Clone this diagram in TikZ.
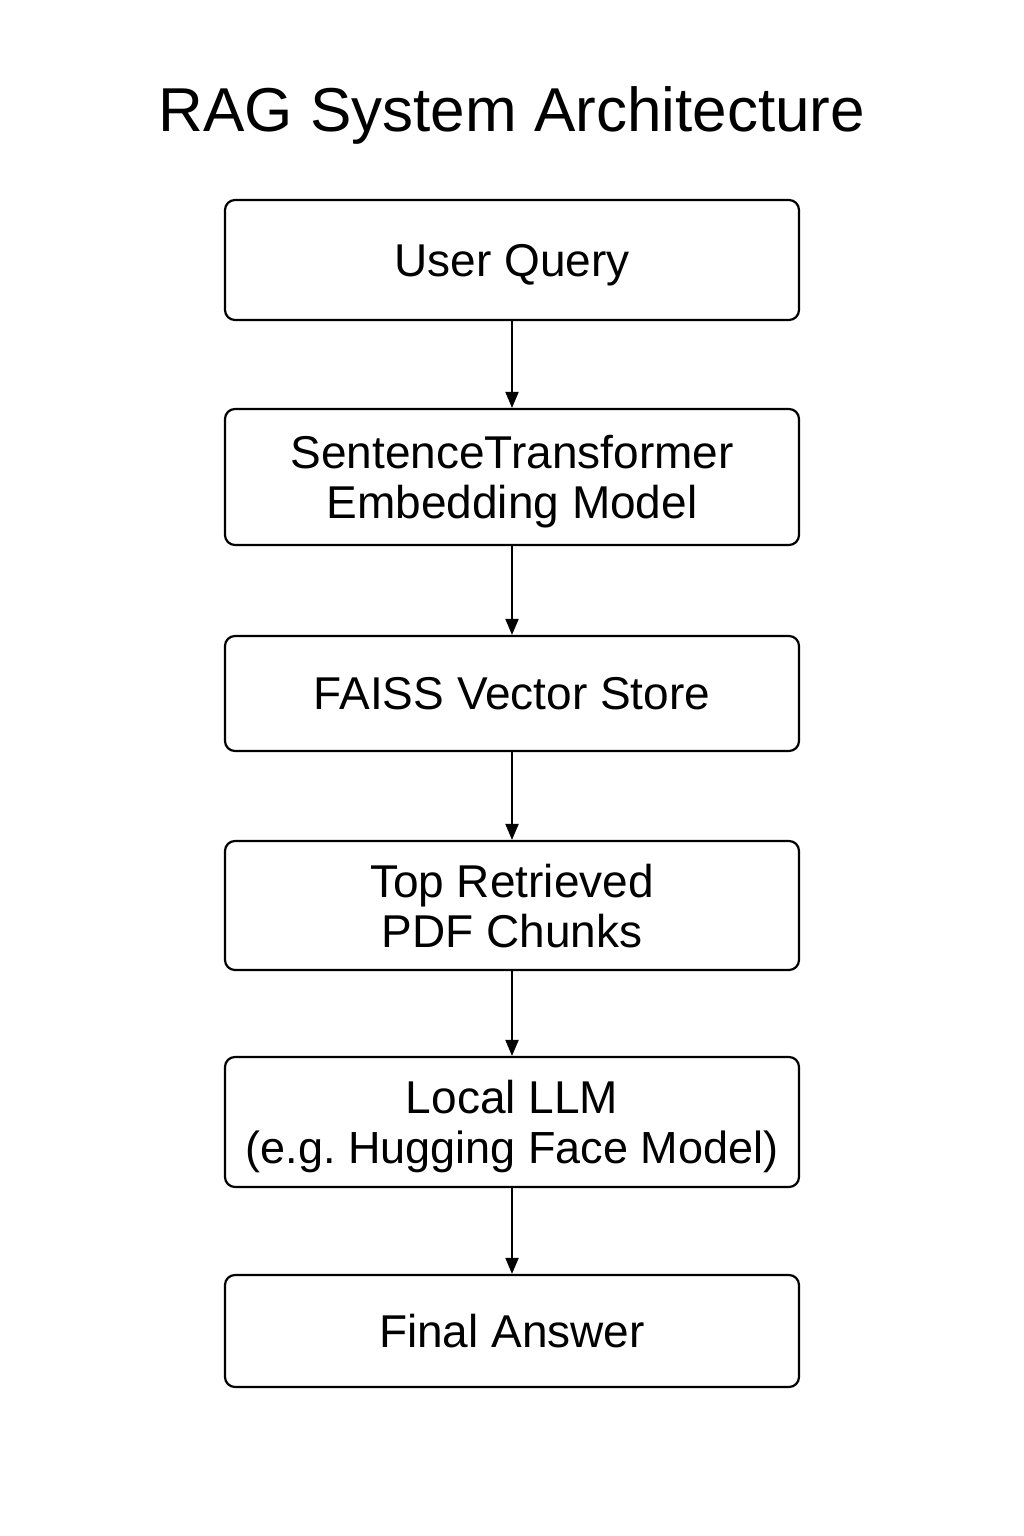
\documentclass[tikz,border=0pt]{standalone}
\usepackage{fontspec}
\setmainfont{Liberation Sans}
\usetikzlibrary{arrows.meta}
\begin{document}
\begin{tikzpicture}[x=1pt,y=-1pt,
  stage/.style={draw=black, line width=2.2pt, rounded corners=10pt, minimum width=574pt, align=center, font=\fontsize{46}{50}\selectfont, inner sep=0pt, text depth=0pt},
  flow/.style={draw=black, line width=2pt, -{Triangle[length=16pt,width=13pt]}}]
\useasboundingbox (0,0) rectangle (1024,1536);
\node[font=\fontsize{62}{66}\selectfont] (title) at (512,115) {RAG System Architecture};
\node[stage, minimum height=120pt] (b1) at (512,260) {User Query};
\node[stage, minimum height=136pt] (b2) at (512,477) {SentenceTransformer\\Embedding Model};
\node[stage, minimum height=115pt] (b3) at (512,693.5) {FAISS Vector Store};
\node[stage, minimum height=129pt] (b4) at (512,905.5) {Top Retrieved\\PDF Chunks};
\node[stage, minimum height=130pt] (b5) at (512,1122) {Local LLM\\{\fontsize{45}{50}\selectfont(e.g.\ Hugging Face Model)}};
\node[stage, minimum height=112pt] (b6) at (512,1331) {Final Answer};
\draw[flow] (b1) -- (b2);
\draw[flow] (b2) -- (b3);
\draw[flow] (b3) -- (b4);
\draw[flow] (b4) -- (b5);
\draw[flow] (b5) -- (b6);
\end{tikzpicture}
\end{document}
